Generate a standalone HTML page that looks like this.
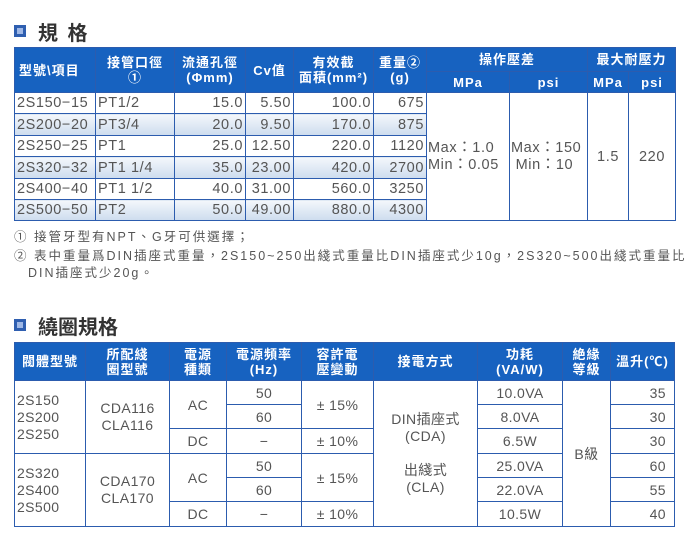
<!DOCTYPE html>
<html><head><meta charset="utf-8"><style>
body{margin:0;width:700px;height:554px;background:#fff;position:relative;overflow:hidden;font-family:"Liberation Sans","Noto Sans CJK TC",sans-serif;color:#555}
.t{position:absolute;font-size:20px;font-weight:bold;color:#333;font-family:"Liberation Sans","Noto Sans CJK TC",sans-serif;letter-spacing:2px}
.sq{position:absolute;width:10px;height:10px;background:#2f5fb0;border:1px solid #2f5fb0}
.sq i{position:absolute;left:2px;top:2px;width:6px;height:6px;background:#9fb8e6}
table{position:absolute;border-collapse:collapse;table-layout:fixed}
td{border:1.5px solid #2c5cae;padding:0 2px;font-size:14.5px;letter-spacing:0.6px;white-space:nowrap;overflow:hidden;color:#555}
th{background:#1762c0;color:#fff;border:1.5px solid #2c5cae;font-size:13px;font-weight:bold;line-height:15px;padding:0;white-space:nowrap;letter-spacing:1px}
.r{text-align:right}.c{text-align:center}
.g td.s{background:linear-gradient(#f4f7fb,#cddcee)}
.note{position:absolute;left:14px;font-size:12.5px;color:#555;white-space:nowrap;letter-spacing:2px}
#t2 td{font-size:14px;letter-spacing:0.4px}
</style></head><body>
<div class="sq" style="left:14px;top:25px"><i></i></div>
<div class="t" style="left:38px;top:17px">規 格</div>
<table style="left:14px;top:47px;width:660px">
<colgroup><col style="width:81px"><col style="width:79px"><col style="width:71px"><col style="width:48px"><col style="width:80px"><col style="width:53px"><col style="width:83px"><col style="width:78px"><col style="width:41px"><col style="width:47px"></colgroup>
<tr style="height:24px"><th rowspan="2" style="text-align:left;padding-left:4px">型號\項目</th><th rowspan="2">接管口徑<br>①</th><th rowspan="2">流通孔徑<br>(Φmm)</th><th rowspan="2">Cv值</th><th rowspan="2">有效截<br>面積(mm²)</th><th rowspan="2">重量②<br>(g)</th><th colspan="2">操作壓差</th><th colspan="2">最大耐壓力</th></tr>
<tr style="height:21px"><th>MPa</th><th>psi</th><th>MPa</th><th>psi</th></tr>
<tr style="height:21px"><td>2S150−15</td><td>PT1/2</td><td class="r">15.0</td><td class="r">5.50</td><td class="r">100.0</td><td class="r">675</td>
<td rowspan="6" style="line-height:17px;padding:0 1px">Max：1.0<br>Min：0.05</td><td rowspan="6" style="line-height:17px;padding:0 1px">Max：150<br>&nbsp;Min：10</td><td rowspan="6" class="c">1.5</td><td rowspan="6" class="c">220</td></tr>
<tr class="g" style="height:22px"><td class="s">2S200−20</td><td class="s">PT3/4</td><td class="s r">20.0</td><td class="s r">9.50</td><td class="s r">170.0</td><td class="s r">875</td></tr>
<tr style="height:21px"><td>2S250−25</td><td>PT1</td><td class="r">25.0</td><td class="r">12.50</td><td class="r">220.0</td><td class="r">1120</td></tr>
<tr class="g" style="height:22px"><td class="s">2S320−32</td><td class="s">PT1 1/4</td><td class="s r">35.0</td><td class="s r">23.00</td><td class="s r">420.0</td><td class="s r">2700</td></tr>
<tr style="height:21px"><td>2S400−40</td><td>PT1 1/2</td><td class="r">40.0</td><td class="r">31.00</td><td class="r">560.0</td><td class="r">3250</td></tr>
<tr class="g" style="height:21px"><td class="s">2S500−50</td><td class="s">PT2</td><td class="s r">50.0</td><td class="s r">49.00</td><td class="s r">880.0</td><td class="s r">4300</td></tr>
</table>
<div class="note" style="top:226px">① 接管牙型有NPT、G牙可供選擇；</div>
<div class="note" style="top:245px">② 表中重量爲DIN插座式重量，2S150~250出綫式重量比DIN插座式少10g，2S320~500出綫式重量比</div>
<div class="note" style="top:262px;left:28px">DIN插座式少20g。</div>

<div class="sq" style="left:14px;top:319px"><i></i></div>
<div class="t" style="left:38px;top:311px;letter-spacing:0">繞圈規格</div>
<table id="t2" style="left:14px;top:342px;width:660px">
<colgroup><col style="width:71px"><col style="width:84px"><col style="width:57px"><col style="width:75px"><col style="width:72px"><col style="width:104px"><col style="width:85px"><col style="width:48px"><col style="width:64px"></colgroup>
<tr style="height:38px"><th>閥體型號</th><th>所配綫<br>圈型號</th><th>電源<br>種類</th><th>電源頻率<br>(Hz)</th><th>容許電<br>壓變動</th><th>接電方式</th><th>功耗<br>(VA/W)</th><th>絶緣<br>等級</th><th>溫升(℃)</th></tr>
<tr style="height:24px"><td rowspan="3" style="line-height:17px">2S150<br>2S200<br>2S250</td><td rowspan="3" class="c" style="line-height:17px">CDA116<br>CLA116</td><td rowspan="2" class="c">AC</td><td class="c">50</td><td rowspan="2" class="c">± 15%</td><td rowspan="6" class="c" style="line-height:17px">DIN插座式<br>(CDA)<br><br>出綫式<br>(CLA)</td><td class="c">10.0VA</td><td rowspan="6" class="c">B級</td><td class="r" style="padding-right:8px">35</td></tr>
<tr style="height:24px"><td class="c">60</td><td class="c">8.0VA</td><td class="r" style="padding-right:8px">30</td></tr>
<tr style="height:25px"><td class="c">DC</td><td class="c">−</td><td class="c">± 10%</td><td class="c">6.5W</td><td class="r" style="padding-right:8px">30</td></tr>
<tr style="height:24px"><td rowspan="3" style="line-height:17px">2S320<br>2S400<br>2S500</td><td rowspan="3" class="c" style="line-height:17px">CDA170<br>CLA170</td><td rowspan="2" class="c">AC</td><td class="c">50</td><td rowspan="2" class="c">± 15%</td><td class="c">25.0VA</td><td class="r" style="padding-right:8px">60</td></tr>
<tr style="height:24px"><td class="c">60</td><td class="c">22.0VA</td><td class="r" style="padding-right:8px">55</td></tr>
<tr style="height:25px"><td class="c">DC</td><td class="c">−</td><td class="c">± 10%</td><td class="c">10.5W</td><td class="r" style="padding-right:8px">40</td></tr>
</table>
</body></html>
